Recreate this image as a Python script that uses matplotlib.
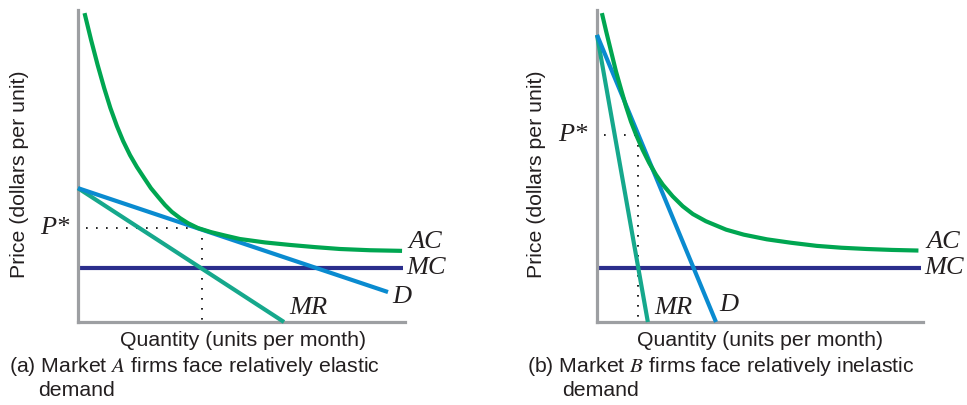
import matplotlib.pyplot as plt

plt.rcParams['font.family'] = ['Liberation Sans', 'DejaVu Sans']
plt.rcParams['mathtext.fontset'] = 'stix'

# quantity / price pairs (axis units 0-10)
ac_a_q = [0.20, 0.40, 0.60, 0.80, 0.99, 1.19, 1.38, 1.59, 1.80, 2.02, 2.23, 2.45, 2.66, 2.87,
          3.12, 3.36, 3.67, 4.07, 4.50, 4.95, 5.72, 6.48, 7.25, 8.01, 8.93, 9.91]
ac_a_p = [9.90, 9.04, 8.24, 7.50, 6.86, 6.28, 5.80, 5.35, 4.97, 4.62, 4.29, 4.01, 3.75, 3.53,
          3.33, 3.17, 3.01, 2.88, 2.77, 2.66, 2.55, 2.47, 2.40, 2.34, 2.30, 2.28]
d_a_q = [0.0, 9.48]
d_a_p = [4.29, 0.96]
mr_a_q = [0.0, 6.30]
mr_a_p = [4.29, 0.0]
mc_a = 1.73
q_star_a = 3.78
p_star_a = 3.01

ac_b_q = [0.15, 0.28, 0.43, 0.58, 0.74, 0.89, 1.04, 1.20, 1.40, 1.60, 1.81, 2.02, 2.32, 2.63,
          2.94, 3.34, 3.96, 4.50, 5.21, 5.95, 6.74, 7.50, 8.27, 9.05, 9.86]
ac_b_p = [9.90, 9.32, 8.68, 8.04, 7.45, 6.91, 6.43, 6.00, 5.52, 5.10, 4.72, 4.40, 4.03, 3.71,
          3.46, 3.23, 2.96, 2.80, 2.65, 2.54, 2.44, 2.38, 2.34, 2.31, 2.29]
d_b_q = [0.0, 3.65]
d_b_p = [9.20, 0.0]
mr_b_q = [0.0, 1.56]
mr_b_p = [9.20, 0.0]
mc_b = 1.73
q_star_b = 1.26
p_star_b = 5.99

AC_COL = '#00A651'
D_COL = '#0A8BD0'
MR_COL = '#16A88C'
MC_COL = '#2B2E8C'
AXIS_COL = '#9D9FA2'
TEXT_COL = '#231F20'

serif = dict(family=['Liberation Serif', 'DejaVu Serif'], style='italic', fontsize=19,
             color=TEXT_COL)


def draw_panel(ax, ac_q, ac_p, d_q, d_p, mr_q, mr_p, mc, q_star, p_star, dot_start, labels):
    ax.set_xlim(0, 10)
    ax.set_ylim(0, 10)
    for s in ['top', 'right']:
        ax.spines[s].set_visible(False)
    for s in ['left', 'bottom']:
        ax.spines[s].set_color(AXIS_COL)
        ax.spines[s].set_linewidth(2.3)
    ax.set_xticks([])
    ax.set_yticks([])

    ax.plot([0, 9.95], [mc, mc], color=MC_COL, lw=3, solid_capstyle='butt', zorder=2)
    ax.plot(mr_q, mr_p, color=MR_COL, lw=3, solid_capstyle='butt', zorder=3, clip_on=False)
    ax.plot(d_q, d_p, color=D_COL, lw=3, solid_capstyle='butt', zorder=4, clip_on=False)
    ax.plot(ac_q, ac_p, color=AC_COL, lw=3, solid_capstyle='butt', solid_joinstyle='round',
            zorder=5, clip_on=False)

    # P* guides
    ax.plot([dot_start, q_star], [p_star, p_star], color='black', lw=1.2,
            linestyle=(0, (1, 5)), zorder=1)
    ax.plot([q_star, q_star], [p_star, 0], color='black', lw=1.2,
            linestyle=(0, (1, 5)), zorder=1)

    for txt, x, y, ha in labels:
        ax.text(x, y, txt, ha=ha, va='center', clip_on=False, **serif)


fig = plt.figure(figsize=(9.67, 4.05), dpi=100)
W, H = 967, 405

ax_a = fig.add_axes([78 / W, (H - 322) / H, 327 / W, 312 / H])
draw_panel(ax_a, ac_a_q, ac_a_p, d_a_q, d_a_p, mr_a_q, mr_a_p, mc_a, q_star_a, p_star_a, 0.25,
           [('AC', 10.12, 2.55, 'left'), ('MC', 10.05, 1.73, 'left'),
            ('D', 9.6, 0.8, 'left'), ('MR', 6.45, 0.45, 'left'),
            ('P*', -0.25, p_star_a, 'right')])

ax_b = fig.add_axes([597 / W, (H - 322) / H, 326 / W, 312 / H])
draw_panel(ax_b, ac_b_q, ac_b_p, d_b_q, d_b_p, mr_b_q, mr_b_p, mc_b, q_star_b, p_star_b, 0.21,
           [('AC', 10.1, 2.55, 'left'), ('MC', 10.05, 1.73, 'left'),
            ('D', 3.74, 0.54, 'left'), ('MR', 1.75, 0.45, 'left'),
            ('P*', -0.3, p_star_b, 'right')])

# axis titles
for x in (20, 537):
    fig.text(x / W, 1 - 174 / H, 'Price (dollars per unit)', rotation=90,
             ha='center', va='center', fontsize=15.3, color=TEXT_COL)
fig.text(243 / W, 1 - 341 / H, 'Quantity (units per month)',
         ha='center', va='center', fontsize=15.3, color=TEXT_COL)
fig.text(760 / W, 1 - 341 / H, 'Quantity (units per month)',
         ha='center', va='center', fontsize=15.3, color=TEXT_COL)

# captions
fig.text(9 / W, 1 - 372 / H, '(a) Market $A$ firms face relatively elastic',
         ha='left', va='baseline', fontsize=15.3, color=TEXT_COL)
fig.text(38 / W, 1 - 396 / H, 'demand', ha='left', va='baseline', fontsize=15.3, color=TEXT_COL)
fig.text(527 / W, 1 - 372 / H, '(b) Market $B$ firms face relatively inelastic',
         ha='left', va='baseline', fontsize=15.3, color=TEXT_COL)
fig.text(562 / W, 1 - 396 / H, 'demand', ha='left', va='baseline', fontsize=15.3, color=TEXT_COL)

fig.savefig('out.png', dpi=100)
